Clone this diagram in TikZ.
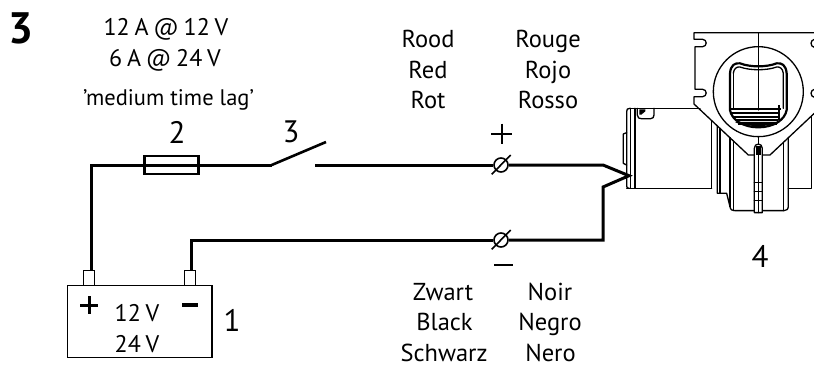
\documentclass[tikz,border=0pt]{standalone}
\usepackage{fontspec}
\setmainfont{PT Sans}
\newcommand{\tightsp}{\spaceskip=.2em\relax}
\tikzset{
  lbl/.style={inner sep=0pt,anchor=base,font=\fontsize{24.5}{24.5}\selectfont},
  small/.style={inner sep=0pt,anchor=base,font=\fontsize{24}{24}\selectfont},
  num/.style={inner sep=0pt,anchor=base,font=\fontsize{31}{31}\selectfont},
  wire/.style={line width=3pt,line join=miter},
  mech/.style={line width=1.3pt,line join=round,line cap=round},
  heavy/.style={line width=2.2pt,line join=round,line cap=round}
}
\begin{document}
\begin{tikzpicture}[x=1pt,y=-1pt]
\useasboundingbox (0,0) rectangle (814,367);
% labels
\node[inner sep=0pt,anchor=base,font=\fontsize{44}{44}\selectfont\bfseries] (big) at (21,43) {3};
\node[small] (t1) at (166,35) {\tightsp 12 A @ 12 V};
\node[small] (t2) at (165,66) {\tightsp 6 A @ 24 V};
\node[small,font=\fontsize{22.5}{22.5}\selectfont] (t3) at (168.5,105) {'medium time lag'};
\node[num] (n2) at (177,143) {2};
\node[num] (n3) at (291,142) {3};
\node[num] (n1) at (232,331) {1};
\node[num] (n4) at (760,267) {4};
\foreach \n/\x/\y/\s in {a/428/47/Rood,b/428/78/Red,c/428/108/Rot,d/548/47/Rouge,e/548/78/Rojo,f/548/108/Rosso,g/443/300/Zwart,h/444.5/330/Black,i/444/361/Schwarz,j/550/300/Noir,k/550/330/Negro,l/550.5/361/Nero}
  \node[lbl] (w\n) at (\x,\y) {\s};
% battery
\node[draw,line width=1.3pt,minimum width=144.5pt,minimum height=72pt,inner sep=0pt] (bat) at (139.7,321.2) {};
\node[draw,line width=1.2pt,minimum width=11pt,minimum height=14.5pt,inner sep=0pt] (tp) at (88.8,278) {};
\node[draw,line width=1.2pt,minimum width=11pt,minimum height=14.5pt,inner sep=0pt] (tn) at (190.2,278) {};
\node[small] (v12) at (137,321) {\tightsp 12 V};
\node[small] (v24) at (137,352) {\tightsp 24 V};
\draw[line width=3pt] (80,305) -- (98,305) (89,296) -- (89,314);
\draw[line width=4pt] (182,304.7) -- (198,304.7);
% fuse
\node[draw,line width=2.4pt,minimum width=54pt,minimum height=18pt,inner sep=0pt] (fuse) at (171.5,165) {};
% terminals
\coordinate (sw1) at (271.7,165);
\coordinate (sw2) at (326,142);
\coordinate (fix) at (315,165);
\coordinate (tip) at (629,175.7);
\coordinate (b1) at (603,165);
\coordinate (b2) at (603,187);
\coordinate (b3) at (603,240);
\coordinate (c1) at (91,165);
\coordinate (c2) at (191,240);
\node[circle,draw,line width=1.6pt,minimum size=14pt,inner sep=0pt,fill=white] (tu) at (501,165) {};
\node[circle,draw,line width=1.6pt,minimum size=14pt,inner sep=0pt,fill=white] (tl) at (501,240) {};
\draw[wire] (tp.north -| c1) -- (c1) -- (fuse.west);
\draw[wire] (fuse.west) -- (fuse.east) -- (sw1);
\draw[line width=2.6pt] (sw1) -- (sw2);
\draw[wire] (fix) -- (tu.west);
\draw[wire] (tu.east) -- (b1) -- (tip) -- (b2) -- (b3) -- (tl.east);
\draw[wire] (tl.west) -- (c2) -- (tn.north -| c2);
\draw[line width=1.6pt] (491.7,174.3) -- (510.7,155);
\draw[line width=1.6pt] (491.7,249.3) -- (510.7,230);
\draw[line width=2pt] (491,133.5) -- (512,133.5) (501.5,123.5) -- (501.5,143.5);
\draw[line width=2pt] (494,265) -- (513,265);
% device (coordinates of the 3x crop)
\begin{scope}[shift={(600,20)},x=0.3333pt,y=-0.3333pt]
\clip (0,0) rectangle (642,630);
% plate
\draw[mech] (643,38) -- (282,38) -- (282,58) -- (308,58) .. controls (322,58) and (322,80) .. (308,80) -- (285,80) -- (285,208) -- (308,208) .. controls (322,208) and (322,230) .. (308,230) -- (282,230) -- (282,252) -- (445,405) -- (510,405) -- (643,280);
\draw[mech] (643,58) .. controls (630,60) and (630,80) .. (643,82);
\draw[mech] (643,208) .. controls (630,210) and (630,230) .. (643,232);
\draw[mech] (475,38) -- (475,270);
\draw[mech] (475,215) circle (135);
% window
\draw[heavy] (390,160) .. controls (392,135) and (405,128) .. (420,130) .. controls (450,142) and (500,142) .. (530,130) .. controls (545,128) and (558,135) .. (560,160) -- (560,270) .. controls (555,300) and (520,322) .. (475,322) .. controls (430,322) and (395,300) .. (390,270) -- cycle;
\draw[mech] (400,160) .. controls (402,145) and (410,140) .. (420,141) .. controls (450,152) and (500,152) .. (530,141) .. controls (540,140) and (548,145) .. (550,160) -- (550,265);
\draw[mech] (400,160) -- (400,265);
\draw[line width=2pt] (392,267) -- (542,267) (394,279) -- (537,279) (398,291) -- (535,291) (405,301) -- (535,301) (415,311) -- (530,311);
\draw[line width=2pt] (538,255) -- (538,300);
\fill (405,306) .. controls (430,322) and (520,322) .. (540,306) -- cycle;
% lower housing
\draw[mech] (475,350) -- (475,375);
\draw[mech] (335,302) -- (335,505);
\draw[mech] (352,318) -- (352,520) -- (380,520) -- (390,560) .. controls (392,570) and (396,572) .. (405,572) -- (552,572) .. controls (560,572) and (565,568) .. (565,558) -- (565,353);
\draw[mech] (360,325) -- (360,520);
\draw[mech] (390,353) -- (390,560);
\draw[mech] (400,363) -- (400,572);
\draw[mech] (550,367) -- (550,572);
\draw[mech] (565,505) -- (635,505) -- (635,287);
% sight tube
\draw[mech,fill=white] (463,578) -- (463,385) .. controls (463,368) and (487,368) .. (487,385) -- (487,578) -- cycle;
\fill (467,378) rectangle (483,405);
\draw[mech] (475,405) -- (475,578) (463,488) -- (487,488) (463,515) -- (487,515) (463,542) -- (487,542);
% motor
\draw[mech] (90,265) -- (300,265) (80,505) -- (335,505);
\draw[mech] (105,265) -- (105,505);
\draw[mech] (90,265) .. controls (82,265) and (80,268) .. (80,275) -- (80,498) .. controls (80,503) and (82,505) .. (88,505);
\draw[mech] (92,265) -- (92,505);
\draw[mech] (70,342) -- (80,338) (70,342) -- (70,430) -- (80,435);
\draw[mech] (112,265) -- (112,285) .. controls (112,294) and (118,296) .. (124,296) -- (152,296) .. controls (158,296) and (162,292) .. (162,285) -- (162,265);
\fill (118,268) -- (136,268) -- (136,274) -- (124,284) -- (118,284) -- cycle;
\end{scope}
\end{tikzpicture}
\end{document}
